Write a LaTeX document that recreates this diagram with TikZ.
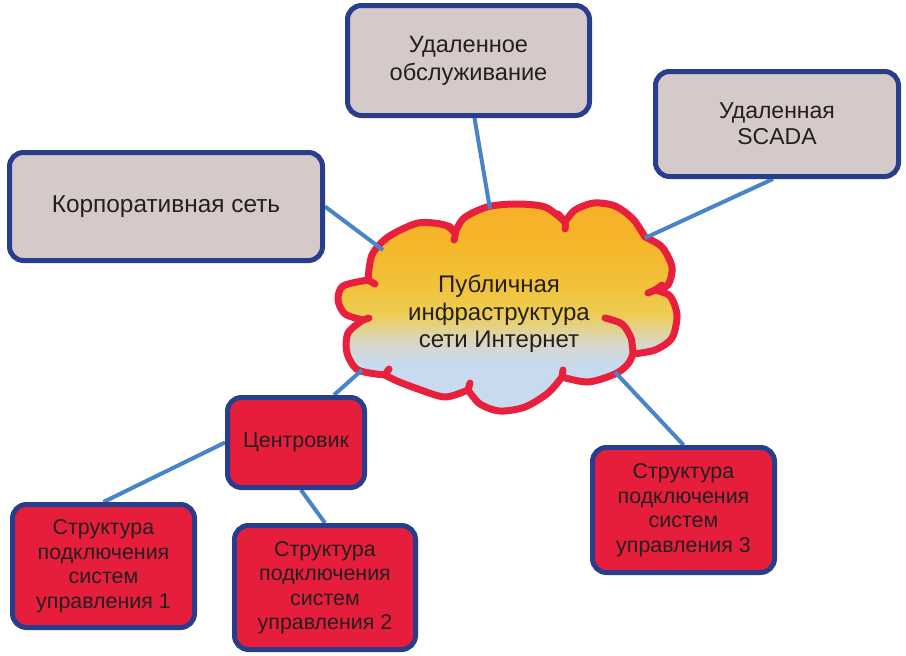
\documentclass[tikz,border=0pt]{standalone}
\usepackage{fontspec}
\setmainfont{Liberation Sans}
\definecolor{boxgrey}{RGB}{214,201,201}
\definecolor{boxblue}{RGB}{40,62,140}
\definecolor{boxred}{RGB}{230,30,60}
\definecolor{cloudred}{RGB}{232,32,62}
\definecolor{connblue}{RGB}{72,132,200}
\definecolor{txt}{RGB}{35,31,32}
\definecolor{cb}{RGB}{200,218,238}
\definecolor{cmA}{RGB}{214,215,205}
\definecolor{cmB}{RGB}{228,210,140}
\definecolor{cy}{RGB}{238,204,80}
\definecolor{coA}{RGB}{242,192,55}
\definecolor{coB}{RGB}{245,182,42}
\definecolor{coC}{RGB}{246,175,40}
\pgfdeclareverticalshading{cloudsh}{100bp}{color(0bp)=(cb); color(36bp)=(cb); color(41bp)=(cmA); color(45bp)=(cmB); color(48.5bp)=(cy); color(57bp)=(coA); color(66bp)=(coB); color(75bp)=(coC); color(100bp)=(coC)}
\pgfdeclarelayer{cloudlayer}
\pgfdeclarelayer{connlayer}
\pgfsetlayers{cloudlayer,connlayer,main}
\begin{document}
\begin{tikzpicture}[x=1pt,y=-1pt,
  greybox/.style={draw=boxblue, fill=boxgrey, line width=5pt, rounded corners=14pt, inner sep=0pt, align=center, text=txt, font=\fontsize{23.6}{28}\selectfont},
  redbox/.style={draw=boxblue, fill=boxred, line width=5pt, rounded corners=14pt, inner sep=0pt, align=center, text=txt, font=\fontsize{21.4}{24.5}\selectfont},
  conn/.style={draw=connblue, line width=4pt},
  curl/.style={draw=cloudred, line width=7pt, line cap=round}]
\useasboundingbox (0,0) rectangle (906,656);
\begin{pgfonlayer}{cloudlayer}
\fill[white] (0,0) rectangle (906,656);
% cloud
\path[shading=cloudsh, draw=cloudred, line width=7pt, line join=round]
  (368,280)
  -- plot[smooth] coordinates {(368,280) (372,255) (388,237) (418,223) (445,225) (455,233)}
  -- plot[smooth] coordinates {(455,233) (464,218) (487,207) (515,204) (545,207) (565,222)}
  -- plot[smooth] coordinates {(565,222) (575,210) (594,203) (615,206) (633,219) (645,237)}
  -- plot[smooth] coordinates {(645,237) (662,247) (672,267) (668,285) (655,290)}
  -- plot[smooth] coordinates {(655,290) (670,296) (677,315) (672,338) (655,350) (633,354)}
  -- plot[smooth] coordinates {(633,354) (628,364) (615,374) (588,382) (562,377)}
  -- plot[smooth] coordinates {(562,377) (548,393) (525,407) (500,411) (480,404) (468,390)}
  -- plot[smooth] coordinates {(468,390) (445,397) (418,389) (397,381) (385,375)}
  -- plot[smooth] coordinates {(385,375) (358,370) (347,353) (348,333) (363,320)}
  -- plot[smooth] coordinates {(363,320) (345,314) (338,300) (343,286) (368,280)}
  -- cycle;
% curls
\path[curl] (368,280) -- (375,284);
\path[curl] plot[smooth] coordinates {(449,226) (455,233) (454,240)};
\path[curl] plot[smooth] coordinates {(558,214) (565,222) (565,229)};
\path[curl] plot[smooth] coordinates {(662,285) (655,290) (648,293)};
\path[curl] plot[smooth] coordinates {(605,318) (622,324) (631,338) (633,354)};
\path[curl] (562,377) -- (563,370);
\path[curl] (468,390) -- (470,383);
\path[curl] (385,375) -- (389,369);
\path[curl] (363,320) -- (369,318);
\end{pgfonlayer}
\node[text=txt, align=center, font=\fontsize{24}{27.5}\selectfont] (cloudtext) at (499,314) {Публичная\\инфраструктура\\сети Интернет};
% cloud connection points
\coordinate (cl1) at (383,250);
\coordinate (cl2) at (490,209);
\coordinate (cl3) at (645,238);
\coordinate (cl4) at (615,372);
\coordinate (cl5) at (362,370);
% boxes
\node[greybox, minimum width=313pt, minimum height=108pt, font=\fontsize{24.4}{28}\selectfont] (korp) at (166,206.5) {Корпоративная сеть};
\node[greybox, minimum width=242pt, minimum height=110pt] (udal) at (468.5,60.5) {Удаленное\\обслуживание};
\node[greybox, minimum width=243pt, minimum height=105pt, font=\fontsize{23}{26}\selectfont] (scada) at (777,124) {Удаленная\\SCADA};
\node[redbox, minimum width=137pt, minimum height=90pt] (centr) at (296,442.5) {Центровик};
\node[redbox, minimum width=182pt, minimum height=123pt] (s1) at (103.5,566) {Структура\\подключения\\систем\\управления 1};
\node[redbox, minimum width=181pt, minimum height=124pt] (s2) at (325,587.5) {Структура\\подключения\\систем\\управления 2};
\node[redbox, minimum width=182pt, minimum height=125pt] (s3) at (683.5,510) {Структура\\подключения\\систем\\управления 3};
% connectors (between cloud and boxes)
\begin{pgfonlayer}{connlayer}
\path[conn] (korp.east) -- (cl1);
\path[conn] ([xshift=6pt]udal.south) -- (cl2);
\path[conn] ([xshift=-4pt]scada.south) -- (cl3);
\path[conn] (cl4) -- (s3.north);
\path[conn] (cl5) -- ([xshift=38pt]centr.north);
\path[conn] (centr.west) -- (s1.north);
\path[conn] ([xshift=5pt]centr.south) -- (s2.north);
\end{pgfonlayer}
\end{tikzpicture}
\end{document}
